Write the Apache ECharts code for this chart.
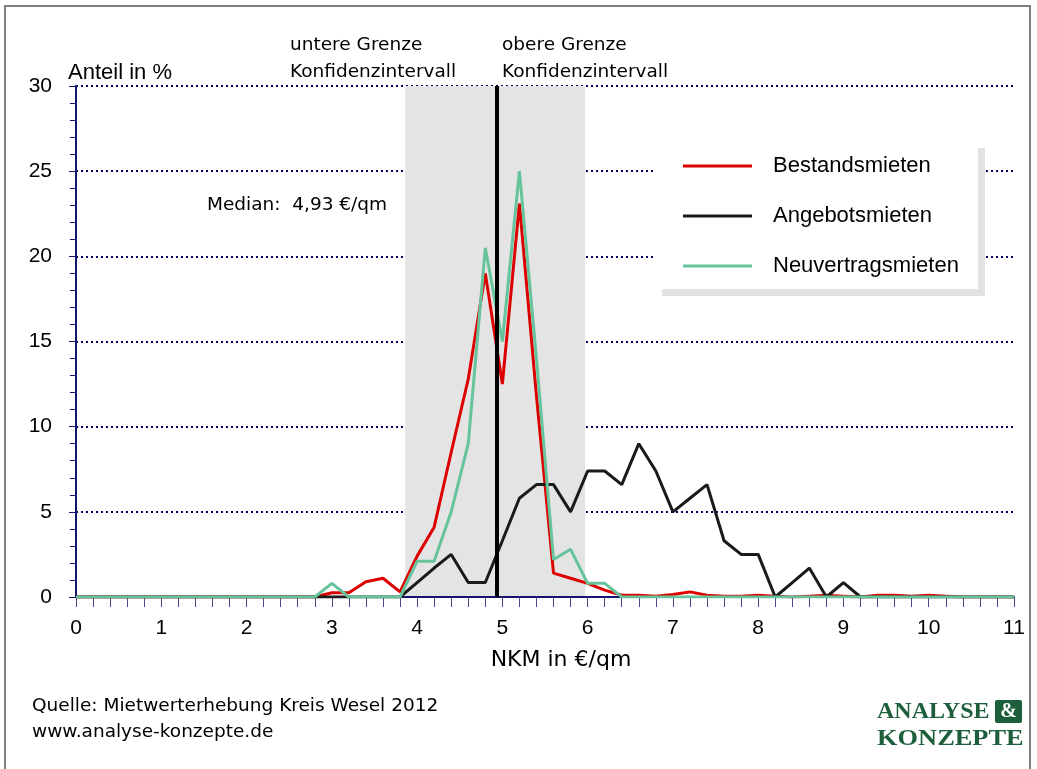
<!DOCTYPE html>
<html>
<head>
<meta charset="utf-8">
<script src="https://cdn.jsdelivr.net/npm/echarts@6/dist/echarts.min.js"></script>
<style>html,body{margin:0;padding:0;background:#fff;}#c{width:1037px;height:769px;}</style>
</head>
<body>
<div id="c"></div>
<script>
// ---- data ----
const xValues = [0,0.2,0.4,0.6,0.8,1,1.2,1.4,1.6,1.8,2,2.2,2.4,2.6,2.8,3,3.2,3.4,3.6,3.8,4,4.2,4.4,4.6,4.8,5,5.2,5.4,5.6,5.8,6,6.2,6.4,6.6,6.8,7,7.2,7.4,7.6,7.8,8,8.2,8.4,8.6,8.8,9,9.2,9.4,9.6,9.8,10,10.2,10.4,10.6,10.8,11];
const bestandsmieten = [0,0,0,0,0,0,0,0,0,0,0,0,0,0,0,0.25,0.25,0.9,1.1,0.3,2.4,4.1,8.5,12.8,19.0,12.5,23.1,11.8,1.4,1.1,0.8,0.4,0.1,0.1,0.05,0.15,0.3,0.1,0.05,0.05,0.1,0.05,0,0.05,0.1,0.05,0,0.1,0.1,0.05,0.1,0.05,0,0,0,0];
const angebotsmieten = [0,0,0,0,0,0,0,0,0,0,0,0,0,0,0,0,0,0,0,0,0.85,1.7,2.5,0.85,0.85,3.3,5.8,6.6,6.6,5.0,7.4,7.4,6.6,9.0,7.4,5.0,5.8,6.6,3.3,2.5,2.5,0,0.85,1.7,0,0.85,0,0,0,0,0,0,0,0,0,0];
const neuvertragsmieten = [0,0,0,0,0,0,0,0,0,0,0,0,0,0,0,0.8,0,0,0,0,2.1,2.1,5.0,9.0,20.5,15.0,25.0,14.0,2.2,2.8,0.8,0.8,0,0,0,0,0,0,0,0,0,0,0,0,0,0,0,0,0,0,0,0,0,0,0,0];
const seriesNames = ['Bestandsmieten','Angebotsmieten','Neuvertragsmieten'];
const median = 4.93;
const konfidenzLower = 3.86;
const konfidenzUpper = 5.97;
const yTicks = [0,5,10,15,20,25,30];
const xTicks = [0,1,2,3,4,5,6,7,8,9,10,11];

// ---- chart ----
const pair = arr => xValues.map((x,i)=>[x,arr[i]]);
const chart = echarts.init(document.getElementById('c'), null, {renderer:'canvas'});
const AX = '#14146e';
const SANS = 'Liberation Sans, Arial, sans-serif';
const TXT = 'DejaVu Sans, Verdana, sans-serif';
chart.setOption({
  animation:false,
  backgroundColor:'#fff',
  grid:{left:76, top:86, width:938, height:511, containLabel:false},
  xAxis:{
    type:'value', min:xTicks[0], max:xTicks[xTicks.length-1], interval:1, z:1,
    axisLine:{show:true, onZero:false, lineStyle:{color:AX, width:2}},
    axisTick:{show:true, length:10, lineStyle:{color:'#4a4a90', width:1}},
    minorTick:{show:true, splitNumber:5, length:10, lineStyle:{color:'#4a4a90', width:1}},
    splitLine:{show:false},
    axisLabel:{margin:21, fontSize:21, color:'#000', fontFamily:SANS,
      formatter:v=>xTicks.includes(v)?String(v):''}
  },
  yAxis:{
    type:'value', min:yTicks[0], max:yTicks[yTicks.length-1], interval:5, z:1,
    axisLine:{show:true, lineStyle:{color:AX, width:2}},
    axisTick:{show:true, length:7, lineStyle:{color:AX, width:1}},
    minorTick:{show:true, splitNumber:5, length:6, lineStyle:{color:AX, width:1}},
    splitLine:{show:true, lineStyle:{color:'#000060', width:2, type:[2,3]}},
    axisLabel:{margin:24, fontSize:21, color:'#000', fontFamily:SANS}
  },
  legend:{
    orient:'vertical', left:678, top:150, z:10,
    icon:'rect', itemWidth:69, itemHeight:3, itemGap:28,
    data:seriesNames,
    textStyle:{fontSize:22, lineHeight:22, color:'#000', fontFamily:SANS, padding:[0,0,0,16]}
  },
  series:[
    {name:'shade', type:'line', data:[], z:0, silent:true,
      markArea:{silent:true, itemStyle:{color:'#e4e4e4'},
        data:[[{xAxis:konfidenzLower},{xAxis:konfidenzUpper}]]}},
    {name:seriesNames[0], type:'line', data:pair(bestandsmieten), symbol:'none', z:3,
      itemStyle:{color:'#dd0000'}, lineStyle:{color:'#dd0000', width:3}},
    {name:seriesNames[1], type:'line', data:pair(angebotsmieten), symbol:'none', z:3,
      itemStyle:{color:'#1a1a1a'}, lineStyle:{color:'#1a1a1a', width:3}},
    {name:seriesNames[2], type:'line', data:pair(neuvertragsmieten), symbol:'none', z:3,
      itemStyle:{color:'#66c39b'}, lineStyle:{color:'#66c39b', width:3}},
    {name:'median', type:'line', data:[], z:6, silent:true,
      markLine:{silent:true, symbol:'none', label:{show:false},
        lineStyle:{color:'#000', width:4, type:'solid'},
        data:[{xAxis:median}]}}
  ],
  graphic:[
    {type:'rect', z:-1, silent:true, shape:{x:5, y:6, width:1025, height:800},
      style:{fill:'none', stroke:'#808080', lineWidth:2}},
    {type:'rect', z:5, silent:true, shape:{x:662, y:148, width:323, height:148}, style:{fill:'#e2e2e2'}},
    {type:'rect', z:6, silent:true, shape:{x:655, y:141, width:323, height:148}, style:{fill:'#fff'}},
    {type:'text', z:10, x:68, y:73, style:{text:'Anteil in %', font:'22px '+SANS, fill:'#000', textVerticalAlign:'middle'}},
    {type:'text', z:10, x:290, y:45, style:{text:'untere Grenze', font:'18.5px '+TXT, fill:'#000', textVerticalAlign:'middle'}},
    {type:'text', z:10, x:290, y:72, style:{text:'Konfidenzintervall', font:'18.5px '+TXT, fill:'#000', textVerticalAlign:'middle'}},
    {type:'text', z:10, x:502, y:45, style:{text:'obere Grenze', font:'18.5px '+TXT, fill:'#000', textVerticalAlign:'middle'}},
    {type:'text', z:10, x:502, y:72, style:{text:'Konfidenzintervall', font:'18.5px '+TXT, fill:'#000', textVerticalAlign:'middle'}},
    {type:'text', z:10, x:207, y:205, style:{text:'Median:  4,93 €/qm', font:'18.5px '+TXT, fill:'#000', textVerticalAlign:'middle'}},
    {type:'text', z:10, x:561, y:660, style:{text:'NKM in €/qm', font:'22px '+TXT, fill:'#000', textAlign:'center', textVerticalAlign:'middle'}},
    {type:'text', z:10, x:32, y:706, style:{text:'Quelle: Mietwerterhebung Kreis Wesel 2012', font:'18.5px '+TXT, fill:'#000', textVerticalAlign:'middle'}},
    {type:'text', z:10, x:32, y:732, style:{text:'www.analyse-konzepte.de', font:'18.5px '+TXT, fill:'#000', textVerticalAlign:'middle'}},
    {type:'text', z:10, x:877, y:712, style:{text:'ANALYSE', font:'bold 24px Liberation Serif, serif', fill:'#1d5e3b', textVerticalAlign:'middle'}},
    {type:'rect', z:10, shape:{x:995, y:700, width:27, height:23, r:2}, style:{fill:'#1d5e3b'}},
    {type:'text', z:11, x:1008.5, y:712, style:{text:'&', font:'bold 20px Liberation Serif, serif', fill:'#fff', textAlign:'center', textVerticalAlign:'middle'}},
    {type:'text', z:10, x:877, y:739, scaleX:1.1, style:{text:'KONZEPTE', font:'bold 24px Liberation Serif, serif', fill:'#1d5e3b', textVerticalAlign:'middle'}}
  ]
});
</script>
</body>
</html>
